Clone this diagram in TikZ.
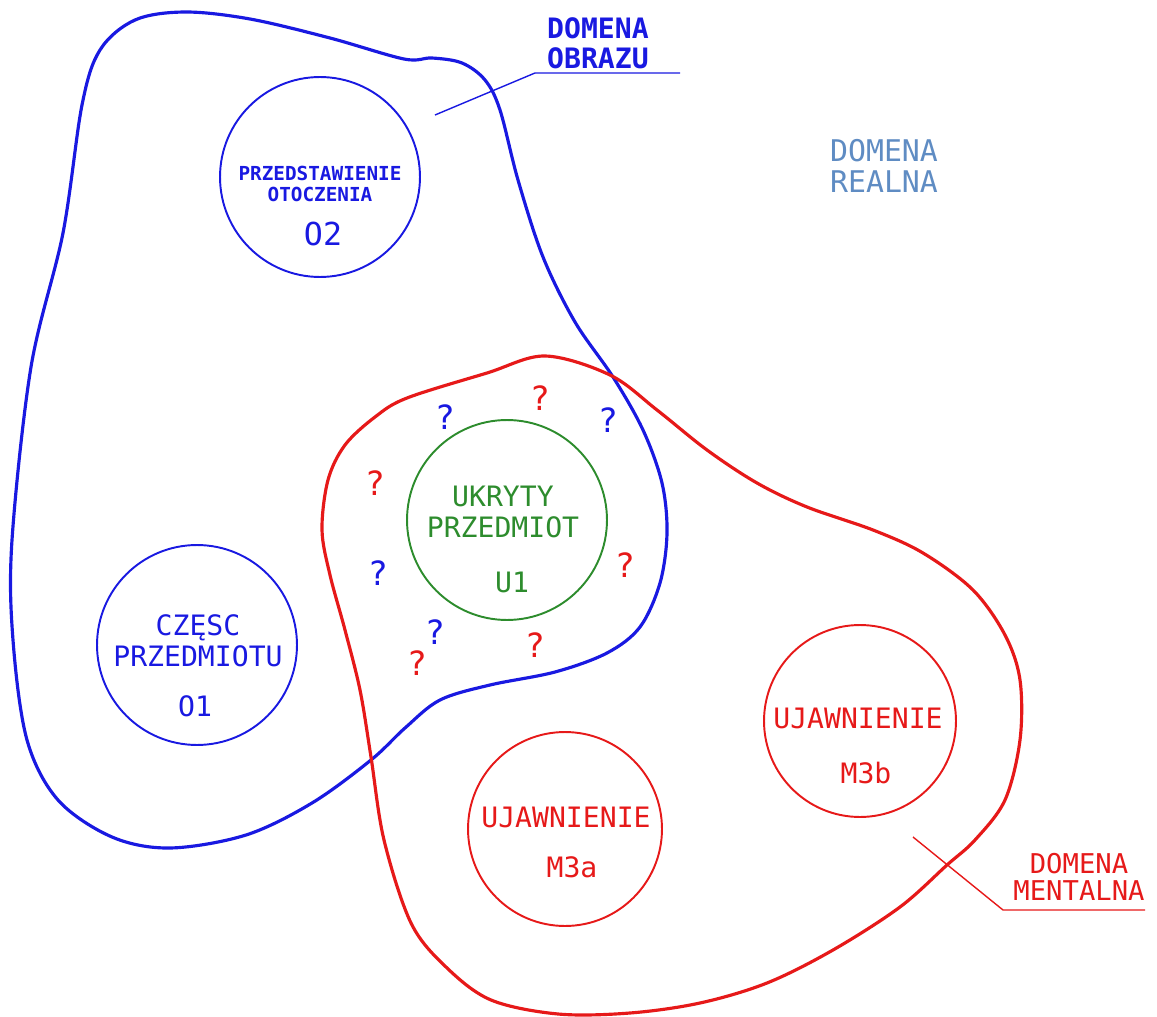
\documentclass[tikz,border=0pt]{standalone}
\usepackage{fontspec}
\newfontfamily\cadfont{DejaVu Sans Mono}
\definecolor{obraz}{RGB}{25,25,225}
\definecolor{mental}{RGB}{230,25,25}
\definecolor{ukryty}{RGB}{45,140,45}
\definecolor{realna}{RGB}{95,140,195}

\begin{document}
\begin{tikzpicture}[x=0.02cm,y=-0.02cm,
        ring/.style={circle,draw,line width=1.1pt,minimum size=#1,inner sep=0pt},
        blob/.style={line width=1.8pt},
        lead/.style={line width=0.8pt},
        lbl/.style={font=\cadfont\fontsize{16}{17.6}\selectfont,align=center,inner sep=0pt},
        small/.style={font=\cadfont\bfseries\fontsize{11}{12}\selectfont,align=center,inner sep=0pt},
        qm/.style={font=\cadfont\fontsize{19}{20}\selectfont,inner sep=0pt}]
        \useasboundingbox (0,0) rectangle (1157,1017);
        \draw[blob,obraz] plot[smooth cycle,tension=0.55] coordinates {
            (185,12) (250,19) (330,38) (404,59) (432,58) (462,63) (485,80) (500,110)
            (518,180) (543,257) (575,322) (613,377) (643,430) (662,483) (667,533)
            (660,583) (640,627) (607,653) (555,672) (490,685) (440,700) (405,728)
            (371,760) (312,803) (246,835) (170,848) (112,837) (58,800) (27,740)
            (13,640) (12,540) (31,367) (63,233) (82,105) (100,50) (135,20)};
        \draw[blob,mental] plot[smooth cycle,tension=0.55] coordinates {
            (545,356) (610,375) (657,410) (707,450) (757,483) (807,507) (873,530)
            (923,553) (973,590) (1005,635) (1020,680) (1020,740) (1005,800) (975,840)
            (947,865) (900,907) (833,950) (767,983) (700,1003) (630,1013) (558,1014)
            (491,1000) (446,967) (411,923) (384,840) (371,757) (360,690) (345,630)
            (330,575) (322,530) (328,480) (345,445) (375,417) (407,398) (487,373)};

        \node[ring=4cm,obraz] (o2) at (320,177) {};
        \node[small,text=obraz] (o2txt) at (320,184) {PRZEDSTAWIENIE\\OTOCZENIA};
        \node[lbl,text=obraz,font=\cadfont\fontsize{18}{20}\selectfont] (o2id) at (323,234) {O2};

        \node[ring=4cm,obraz] (o1) at (197,645) {};
        \node[lbl,text=obraz] (o1txt) at (198,641) {CZĘSC\\PRZEDMIOTU};
        \node[lbl,text=obraz] (o1id) at (195,706) {O1};

        \node[ring=4cm,ukryty] (u1) at (507,520) {};
        \node[lbl,text=ukryty] (u1txt) at (503,512) {UKRYTY\\PRZEDMIOT};
        \node[lbl,text=ukryty] (u1id) at (512,582) {U1};

        \node[ring=3.88cm,mental] (m3a) at (565,829) {};
        \node[lbl,text=mental] (m3atxt) at (566,817) {UJAWNIENIE};
        \node[lbl,text=mental] (m3aid) at (572,867) {M3a};

        \node[ring=3.84cm,mental] (m3b) at (860,721) {};
        \node[lbl,text=mental] (m3btxt) at (858,718) {UJAWNIENIE};
        \node[lbl,text=mental] (m3bid) at (866,773) {M3b};

        \foreach \px/\py/\qc [count=\i] in {445/417/obraz, 540/398/mental, 608/420/obraz,
                375/483/mental, 378/573/obraz, 625/565/mental, 435/632/obraz,
                417/663/mental, 535/645/mental}
            \node[qm,text=\qc] (q\i) at (\px,\py) {?};

        \node[lbl,text=obraz,font=\cadfont\bfseries\fontsize{16}{17}\selectfont] (obrazTxt) at (598,43) {DOMENA\\OBRAZU};
        \coordinate (obrazTip) at (435,115);
        \coordinate (obrazKnee) at (535,73);
        \coordinate (obrazEnd) at (680,73);
        \draw[lead,obraz] (obrazTip) -- (obrazKnee) -- (obrazEnd);

        \node[lbl,text=realna,font=\cadfont\fontsize{17}{17.5}\selectfont] (realnaTxt) at (884,166) {DOMENA\\REALNA};

        \node[lbl,text=mental,font=\cadfont\fontsize{15.5}{15.5}\selectfont] (mentalTxt) at (1079,877) {DOMENA\\MENTALNA};
        \coordinate (mentalTip) at (913,837);
        \coordinate (mentalKnee) at (1003,910);
        \coordinate (mentalEnd) at (1145,910);
        \draw[lead,mental] (mentalTip) -- (mentalKnee) -- (mentalEnd);
    \end{tikzpicture}
\end{document}
